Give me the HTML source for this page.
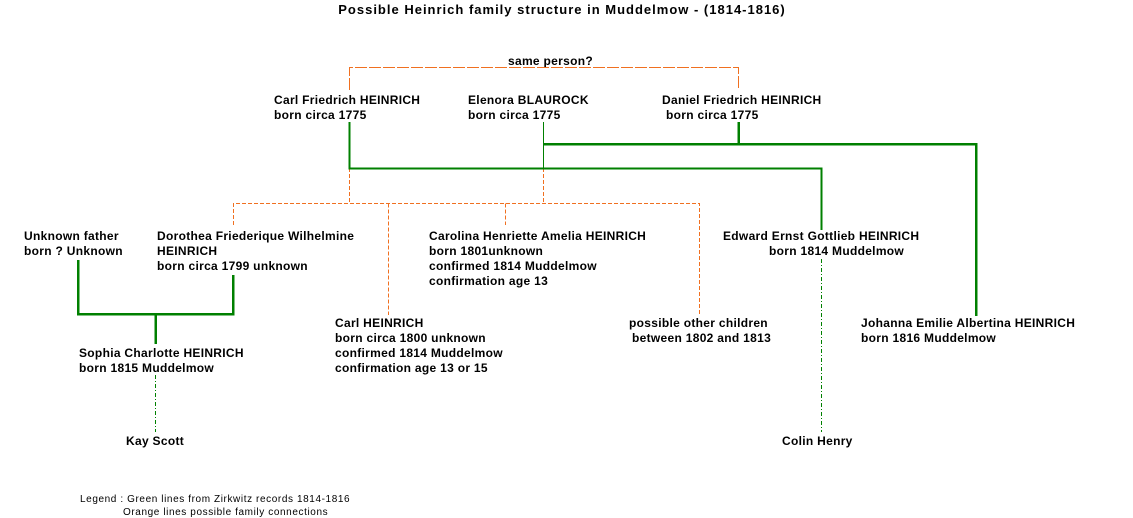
<!DOCTYPE html>
<html><head><meta charset="utf-8"><style>
html,body{margin:0;padding:0;background:#fff;}
svg{display:block;}
text{font-family:"Liberation Sans",Arial,sans-serif;font-size:12px;font-weight:bold;fill:#000;letter-spacing:0.3px;}
.l{font-size:10px;font-weight:normal;letter-spacing:0.6px;}
.t{font-size:13px;letter-spacing:1px;}
</style></head><body>
<svg width="1133" height="518" viewBox="0 0 1133 518" xmlns="http://www.w3.org/2000/svg">
<text class="t" x="562" y="14" text-anchor="middle">Possible Heinrich family structure in Muddelmow  -  (1814-1816)</text>
<text x="508" y="65">same person?</text>
<g fill="none" stroke="#f07020" stroke-width="1" shape-rendering="crispEdges">
<path d="M349.5 90V67.5H738.5V90" stroke-dasharray="12 2"/>
<g stroke-dasharray="4 2">
<path d="M349.5 168V203.5M543.5 168V203.5M233.5 225V203.5H699.5V315M388.5 203.5V315M505.5 203.5V225"/>
</g>
</g>
<g fill="none" stroke="#008000" shape-rendering="crispEdges">
<path d="M349.5 122V168.5H821.5V230" stroke-width="2"/>
<path d="M543.5 122V168" stroke-width="1"/>
<path d="M543 144H976V316M738.5 122V144" stroke-width="2.5"/>
<path d="M78 260V314H233V275M155.5 314V344" stroke-width="2.5"/>
<path d="M155.5 375V432M821.5 259V432" stroke-width="1" stroke-dasharray="4 2 1 2"/>
</g>
<text x="274" y="104">Carl Friedrich HEINRICH</text>
<text x="274" y="119">born circa 1775</text>
<text x="468" y="104">Elenora BLAUROCK</text>
<text x="468" y="119">born circa 1775</text>
<text x="662" y="104">Daniel Friedrich HEINRICH</text>
<text x="666" y="119">born circa 1775</text>
<text x="24" y="240">Unknown father</text>
<text x="24" y="255">born ? Unknown</text>
<text x="157" y="240">Dorothea Friederique Wilhelmine</text>
<text x="157" y="255">HEINRICH</text>
<text x="157" y="270">born circa 1799 unknown</text>
<text x="429" y="240">Carolina Henriette Amelia HEINRICH</text>
<text x="429" y="255">born 1801unknown</text>
<text x="429" y="270">confirmed 1814 Muddelmow</text>
<text x="429" y="285">confirmation age 13</text>
<text x="723" y="240">Edward Ernst Gottlieb HEINRICH</text>
<text x="769" y="255">born 1814 Muddelmow</text>
<text x="335" y="327">Carl HEINRICH</text>
<text x="335" y="342">born circa 1800 unknown</text>
<text x="335" y="357">confirmed 1814 Muddelmow</text>
<text x="335" y="372">confirmation age 13 or 15</text>
<text x="629" y="327">possible other children</text>
<text x="632" y="342">between 1802 and 1813</text>
<text x="861" y="327">Johanna Emilie Albertina HEINRICH</text>
<text x="861" y="342">born 1816 Muddelmow</text>
<text x="79" y="357">Sophia Charlotte HEINRICH</text>
<text x="79" y="372">born 1815 Muddelmow</text>
<text x="126" y="445">Kay Scott</text>
<text x="782" y="445">Colin Henry</text>
<text class="l" x="80" y="502">Legend :  Green lines from Zirkwitz records 1814-1816</text>
<text class="l" x="123" y="515">Orange lines possible family connections</text>
</svg>
</body></html>
